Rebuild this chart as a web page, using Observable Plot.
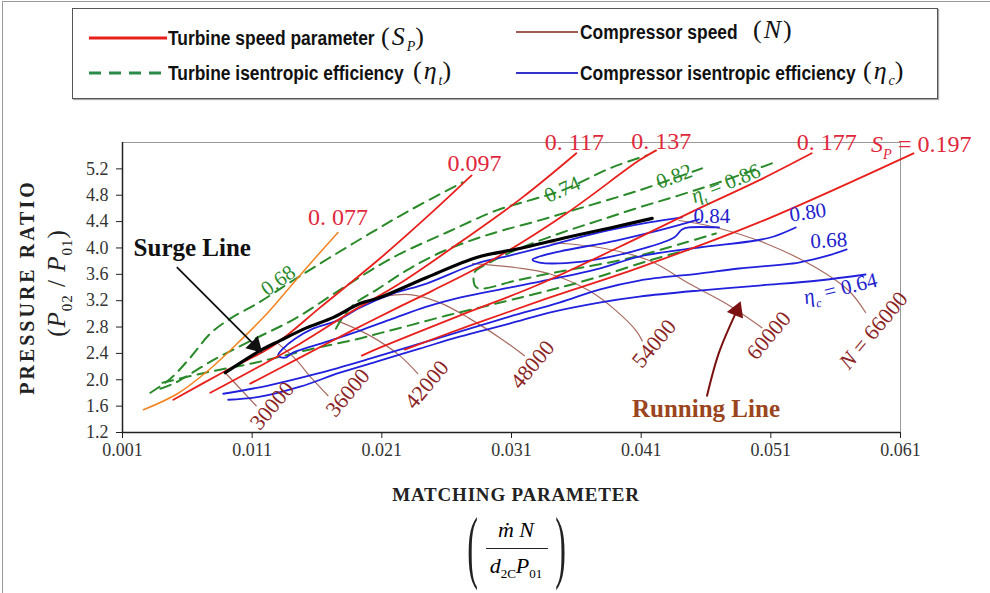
<!DOCTYPE html>
<html><head><meta charset="utf-8">
<script src="https://cdn.jsdelivr.net/npm/d3@7"></script>
<script src="https://cdn.jsdelivr.net/npm/@observablehq/plot@0.6"></script>
<style>
html,body{margin:0;padding:0;background:#fff;}
body{width:990px;height:593px;position:relative;overflow:hidden;font-family:"Liberation Serif","DejaVu Serif",serif;}
#frame{position:absolute;left:2px;top:1px;width:1000px;height:600px;border-left:1px solid #9a9a9a;border-top:1px solid #9a9a9a;}
#legend{position:absolute;left:72px;top:8px;width:864px;height:89px;border:1px solid #555;box-shadow:1px 1px 1px #aaa;background:#fff;}
.sw{position:absolute;}
.lt{position:absolute;font-family:"Liberation Sans",Arial,sans-serif;font-weight:bold;font-size:20px;transform:scaleX(0.87);transform-origin:left center;color:#111;white-space:nowrap;line-height:24px;}
.lm{position:absolute;font-family:"Liberation Serif",serif;font-size:26px;color:#111;white-space:nowrap;letter-spacing:2px;line-height:30px;}
.lm i{font-style:italic;}
.lm sub{font-size:14px;font-style:italic;vertical-align:-6px;letter-spacing:0;}
#chart{position:absolute;left:0;top:100px;}
#xtitle{position:absolute;left:0;width:1032px;top:484px;line-height:22px;text-align:center;font-weight:bold;font-size:19px;letter-spacing:0.8px;color:#222;}
#formula{position:absolute;left:468px;top:508px;width:96px;height:82px;}
#formula .p{position:absolute;top:19px;height:40px;font-size:40px;line-height:40px;transform:scale(0.8,2.0);transform-origin:center center;color:#222;}
#formula .num{position:absolute;left:0;width:96px;top:9px;text-align:center;font-size:22px;line-height:26px;font-style:italic;}
#formula .bar{position:absolute;left:18px;width:62px;top:40px;border-top:1.3px solid #222;}
#formula .den{position:absolute;left:0;width:96px;top:45px;text-align:center;font-size:22px;line-height:26px;font-style:italic;}
#formula sub{font-size:13px;font-style:normal;vertical-align:-5px;}
</style></head>
<body>
<div id="frame"></div>
<div id="legend">
  <svg class="sw" style="left:16px;top:24px" width="80" height="10"><line x1="0" y1="5" x2="78" y2="5" stroke="#e8201c" stroke-width="3"/></svg>
  <span class="lt" style="left:95px;top:17px;">Turbine speed parameter</span>
  <span class="lm" style="left:308px;top:13px;">(<i>S</i><sub>P</sub>)</span>
  <svg class="sw" style="left:16px;top:59px" width="80" height="10"><line x1="0" y1="5" x2="78" y2="5" stroke="#2a8a4a" stroke-width="3" stroke-dasharray="12,8"/></svg>
  <span class="lt" style="left:95px;top:52px;">Turbine isentropic efficiency</span>
  <span class="lm" style="left:340px;top:47px;">(<i>η</i><sub>t</sub>)</span>
  <svg class="sw" style="left:443px;top:18px" width="64" height="10"><line x1="0" y1="5" x2="62" y2="5" stroke="#a05a50" stroke-width="2"/></svg>
  <span class="lt" style="left:507px;top:11px;">Compressor speed</span>
  <span class="lm" style="left:680px;top:6px;">(<i>N</i>)</span>
  <svg class="sw" style="left:443px;top:59px" width="64" height="10"><line x1="0" y1="5" x2="62" y2="5" stroke="#3333cc" stroke-width="2"/></svg>
  <span class="lt" style="left:507px;top:52px;">Compressor isentropic efficiency</span>
  <span class="lm" style="left:790px;top:47px;">(<i>η</i><sub>c</sub>)</span>
</div>
<div id="chart"></div>
<div id="xtitle">MATCHING PARAMETER</div>
<div id="formula">
  <span class="p" style="left:-2px;">(</span>
  <div class="num"><i>ṁ</i>&nbsp;<i>N</i></div>
  <div class="bar"></div>
  <div class="den"><i>d</i><sub>2C</sub><i>P</i><sub>01</sub></div>
  <span class="p" style="left:86px;">)</span>
</div>
<script>
// ---- axis ticks ----
const xTicks = [0.001, 0.011, 0.021, 0.031, 0.041, 0.051, 0.061];
const yTicks = [1.2, 1.6, 2.0, 2.4, 2.8, 3.2, 3.6, 4.0, 4.4, 4.8, 5.2];

// ---- turbine speed parameter S_P lines [matching parameter, pressure ratio] ----
const sp077 = [[0.00262,1.545],[0.00523,1.788],[0.00777,2.168],[0.01008,2.594],[0.01215,3.004],[0.01415,3.46],[0.01569,3.81],[0.01762,4.235]];
const sp097 = [[0.00492,1.697],[0.00869,2.107],[0.01262,2.518],[0.01623,3.095],[0.02085,3.84],[0.02469,4.509],[0.02792,5.101]];
const sp117 = [[0.00777,1.803],[0.01469,2.548],[0.01854,3.019],[0.02238,3.46],[0.02723,4.113],[0.03185,4.767],[0.0360,5.436]];
const sp137 = [[0.01085,1.941],[0.01469,2.336],[0.01854,2.731],[0.02238,3.11],[0.02492,3.353],[0.02985,3.855],[0.03523,4.524],[0.04085,5.329],[0.04215,5.481]];
const sp177 = [[0.01946,2.366],[0.02085,2.487],[0.0270,2.974],[0.03292,3.43],[0.04085,4.16],[0.04546,4.60],[0.05008,5.025],[0.05415,5.436]];
const sp197 = [[0.02277,2.457],[0.02777,2.822],[0.03369,3.232],[0.04085,3.703],[0.05008,4.387],[0.0620,5.436]];

// ---- surge line ----
const surge = [[0.00892,2.107],[0.01162,2.442],[0.01315,2.594],[0.01523,2.791],[0.01723,2.943],[0.01931,3.156],[0.02085,3.247],[0.02446,3.551],[0.02831,3.855],[0.03162,3.992],[0.03523,4.159],[0.03877,4.311],[0.04185,4.448]];

// ---- compressor speed N lines ----
const n30000 = [[0.00892,2.107],[0.01008,1.864],[0.01131,1.606]];
const n36000 = [[0.0130,2.548],[0.01431,2.32],[0.01562,2.016],[0.01685,1.758]];
const n42000 = [[0.01754,2.898],[0.02008,2.67],[0.02238,2.366],[0.02377,2.092]];
const n48000 = [[0.02108,3.262],[0.02315,3.293],[0.02546,3.171],[0.02777,2.928],[0.03008,2.639],[0.0320,2.366]];
const n54000 = [[0.0280,3.761],[0.03138,3.70],[0.03392,3.609],[0.0370,3.35],[0.03908,3.046],[0.04062,2.742],[0.04108,2.59]];
const n60000 = [[0.03369,4.083],[0.03777,4.007],[0.04162,3.809],[0.04469,3.46],[0.04754,3.156],[0.05031,2.791]];
const n66000 = [[0.04392,4.417],[0.04677,4.311],[0.05062,4.068],[0.05446,3.703],[0.0570,3.354],[0.05831,3.02]];

// ---- compressor isentropic efficiency contours ----
const ec064 = [[0.00915,1.697],[0.01162,1.743],[0.01469,1.895],[0.01777,2.107],[0.02085,2.29],[0.02392,2.472],[0.0270,2.654],[0.03085,2.852],[0.03392,3.019],[0.03777,3.171],[0.04085,3.262],[0.04546,3.354],[0.05008,3.43],[0.05469,3.506],[0.05831,3.597]];
const ec068 = [[0.00877,1.788],[0.01215,1.909],[0.0160,2.092],[0.02008,2.32],[0.02392,2.548],[0.02777,2.776],[0.03085,2.958],[0.03469,3.171],[0.03777,3.369],[0.04085,3.506],[0.04546,3.612],[0.04854,3.688],[0.05315,3.779],[0.05546,3.886],[0.05685,3.977]];
const ec080 = [[0.04415,4.463],[0.04162,4.387],[0.03777,4.235],[0.03392,4.037],[0.03085,3.885],[0.02831,3.764],[0.02446,3.46],[0.02185,3.308],[0.01931,3.095],[0.01754,2.898],[0.01569,2.776],[0.01431,2.624],[0.01338,2.472],[0.0130,2.366],[0.01354,2.335],[0.01415,2.411],[0.01677,2.578],[0.01931,2.746],[0.02185,2.928],[0.02446,3.11],[0.0270,3.247],[0.03085,3.399],[0.03392,3.521],[0.03777,3.688],[0.04085,3.87],[0.04546,4.007],[0.04985,4.113],[0.05123,4.174],[0.05292,4.311]];
const ec084 = [[0.04546,4.433],[0.04238,4.266],[0.03908,4.113],[0.03469,3.946],[0.03315,3.87],[0.03262,3.824],[0.03315,3.779],[0.03646,3.794],[0.04031,3.946],[0.04354,4.159],[0.04415,4.281],[0.04469,4.311],[0.0470,4.311]];

// ---- turbine isentropic efficiency contours ----
const et068 = [[0.00315,1.803],[0.00469,2.016],[0.00623,2.336],[0.00777,2.70],[0.00931,2.928],[0.01138,3.156],[0.01415,3.506],[0.0170,3.855],[0.02008,4.22],[0.02315,4.57],[0.02723,4.995]];
const et074 = [[0.00392,1.864],[0.00508,1.955],[0.00792,2.29],[0.01123,2.624],[0.01431,2.928],[0.01792,3.384],[0.02185,3.855],[0.0260,4.235],[0.02985,4.57],[0.03238,4.722],[0.03492,4.874],[0.03877,5.223],[0.04146,5.405]];
const et082 = [[0.01746,2.776],[0.01792,2.928],[0.01892,3.156],[0.02062,3.369],[0.02315,3.688],[0.02569,3.946],[0.02831,4.144],[0.03031,4.266],[0.03315,4.418],[0.03623,4.6],[0.04085,4.874],[0.04569,5.208]];
const et086 = [[0.05108,5.284],[0.0470,4.995],[0.04392,4.798],[0.04085,4.615],[0.03777,4.418],[0.03492,4.235],[0.03162,3.992],[0.02931,3.779],[0.02815,3.627],[0.02831,3.399],[0.03138,3.506],[0.03392,3.612],[0.03646,3.703],[0.04031,3.855],[0.04415,4.068],[0.04677,4.22]];
const etLow = [[0.00408,1.955],[0.00738,2.107],[0.01123,2.259],[0.01538,2.457],[0.01892,2.609],[0.0210,2.715],[0.02338,2.837],[0.0260,2.974],[0.02854,3.095],[0.03108,3.217],[0.03446,3.384],[0.03777,3.566],[0.04162,3.809],[0.04469,3.976]];

// ---- annotation arrows ----
const surgeArrow = [[0.00523,3.703],[0.01123,2.518]];
const runningArrow = [[0.04608,1.758],[0.0470,2.411],[0.04831,3.02]];
const arrowHeads = [{x:0.01123, y:2.518, r:135, c:"#111"}, {x:0.04838, y:3.05, r:22, c:"#7a1010"}];

// ---- labels ----
const spLabels = [
  {x:0.01762, y:4.463, t:"0. 077"}, {x:0.02815, y:5.284, t:"0.097"}, {x:0.03585, y:5.603, t:"0. 117"},
  {x:0.04254, y:5.618, t:"0. 137"}, {x:0.05531, y:5.603, t:"0. 177"}];
const nLabels = [
  {x:0.01254, y:1.606, t:"30000"}, {x:0.01838, y:1.803, t:"36000"}, {x:0.02446, y:1.925, t:"42000"},
  {x:0.03262, y:2.229, t:"48000"}, {x:0.0420, y:2.548, t:"54000"}, {x:0.05085, y:2.67, t:"60000"}];
const etLabels = [
  {x:0.0130, y:3.505, t:"0.68", r:-36}, {x:0.03492, y:4.888, t:"0.74", r:-24}, {x:0.04354, y:5.085, t:"0.82", r:-20}];
const ecLabels = [
  {x:0.04646, y:4.479, t:"0.84", r:0}, {x:0.05385, y:4.539, t:"0.80", r:-8}, {x:0.05546, y:4.113, t:"0.68", r:-3}];

const RED = "#e8201c", ORANGE = "#f5821f", GREEN = "#2a8a2a", BLUE = "#2020dd", BROWN = "#a86a60";
const rows = (arr) => arr.map(d => ({x: d[0], y: d[1]}));
const L = (arr, o) => Plot.line(rows(arr), {x: "x", y: "y", curve: "catmull-rom", ...o});

const plot = Plot.plot({
  width: 990, height: 390,
  marginTop: 42, marginBottom: 58, marginLeft: 122, marginRight: 90,
  style: {fontFamily: "Liberation Serif, serif", fontSize: "18px", color: "#333", background: "transparent", overflow: "visible"},
  x: {domain: [0.001, 0.061], label: null},
  y: {domain: [1.2, 5.6], label: null},
  marks: [
    Plot.axisX({ticks: xTicks, tickFormat: d => d.toFixed(3), tickSize: 6, tickPadding: 5, label: null, stroke: "#222"}),
    Plot.axisY({ticks: yTicks, tickFormat: d => d.toFixed(1), tickSize: 6, tickPadding: 8, label: null, stroke: "#222"}),
    Plot.ruleY([5.6], {stroke: "#999", strokeWidth: 1}),
    Plot.ruleX([0.061], {stroke: "#999", strokeWidth: 1}),
    Plot.ruleY([1.2], {stroke: "#222", strokeWidth: 1.5}),
    Plot.ruleX([0.001], {stroke: "#222", strokeWidth: 1.5}),
    ...[n30000, n36000, n42000, n48000, n54000, n60000, n66000].map(a => L(a, {stroke: BROWN, strokeWidth: 1.2})),
    ...[et068, et074, et082, et086, etLow].map(a => L(a, {stroke: GREEN, strokeWidth: 2, strokeDasharray: "11,7"})),
    ...[ec064, ec068, ec080, ec084].map(a => L(a, {stroke: BLUE, strokeWidth: 1.8})),
    L(sp077, {stroke: ORANGE, strokeWidth: 1.5}),
    ...[sp097, sp117, sp137, sp177, sp197].map(a => L(a, {stroke: RED, strokeWidth: 1.8})),
    L(surge, {stroke: "#000", strokeWidth: 3.2}),
    L(surgeArrow, {stroke: "#111", strokeWidth: 1.8, curve: "linear"}),
    L(runningArrow, {stroke: "#7a1010", strokeWidth: 2}),
    Plot.dot(arrowHeads, {x: "x", y: "y", symbol: "triangle", r: 6.5, fill: "c", rotate: "r", stroke: null}),
    Plot.text([{x: 0.00638, y: 3.992}], {x: "x", y: "y", text: () => "Surge Line", fontSize: 25, fontWeight: "bold", fill: "#111"}),
    Plot.text([{x: 0.0460, y: 1.56}], {x: "x", y: "y", text: () => "Running Line", fontSize: 25, fontWeight: "bold", fill: "#9a4520"}),
    Plot.text(spLabels, {x: "x", y: "y", text: "t", fontSize: 24, fill: "#e0283c"}),
    Plot.text(nLabels, {x: "x", y: "y", text: "t", fontSize: 22, fill: "#8b2525", rotate: -50}),
    Plot.text(etLabels, {x: "x", y: "y", text: "t", fontSize: 21, fill: GREEN, rotate: d => d.r}),
    Plot.text(ecLabels, {x: "x", y: "y", text: "t", fontSize: 21, fill: "#2222cc", rotate: d => d.r})
  ]
});
document.getElementById("chart").appendChild(plot);

// rich math labels placed through the plot's scales
const svg = d3.select(plot);
const sx = plot.scale("x"), sy = plot.scale("y");
function rich(px, py, parts, o) {
  const t = svg.append("text")
    .attr("transform", `translate(${px},${py}) rotate(${o.rotate || 0})`)
    .attr("text-anchor", o.anchor || "middle")
    .attr("font-family", "Liberation Serif, serif")
    .attr("font-weight", o.weight || "normal")
    .attr("letter-spacing", o.ls || 0)
    .attr("font-size", o.size).attr("fill", o.fill).attr("y", o.size * 0.35);
  let shift = 0;
  for (const p of parts) {
    const s = t.append("tspan").text(p.t);
    if (p.i) s.attr("font-style", "italic");
    const target = p.sub ? o.size * 0.3 : 0;
    s.attr("font-size", p.sub ? o.size * 0.6 : o.size);
    if (target !== shift) { s.attr("dy", target - shift); shift = target; }
  }
}
rich(sx.apply(0.05877), sy.apply(5.58), [{t: "S", i: 1}, {t: "P", i: 1, sub: 1}, {t: " = 0.197"}], {size: 24, fill: "#e0283c", anchor: "start"});
rich(sx.apply(0.04754), sy.apply(4.98), [{t: "η", i: 1}, {t: "t", sub: 1}, {t: " = 0.86"}], {size: 21, fill: GREEN, rotate: -22});
rich(sx.apply(0.05638), sy.apply(3.384), [{t: "η", i: 1}, {t: "c", i: 1, sub: 1}, {t: " = 0.64"}], {size: 21, fill: "#2222cc", rotate: -14});
rich(sx.apply(0.05892), sy.apply(2.746), [{t: "N", i: 1}, {t: " = 66000"}], {size: 22, fill: "#8b2525", rotate: -50});
const cy = (sy.apply(1.2) + sy.apply(5.6)) / 2;
rich(27, cy, [{t: "PRESSURE RATIO"}], {size: 20, weight: "bold", fill: "#222", rotate: -90, ls: 3});
rich(56, cy - 4, [{t: "("}, {t: "P", i: 1}, {t: "02", sub: 1}, {t: " / "}, {t: "P", i: 1}, {t: "01", sub: 1}, {t: ")"}], {size: 25, fill: "#222", rotate: -90, ls: 1});
</script>
</body></html>
